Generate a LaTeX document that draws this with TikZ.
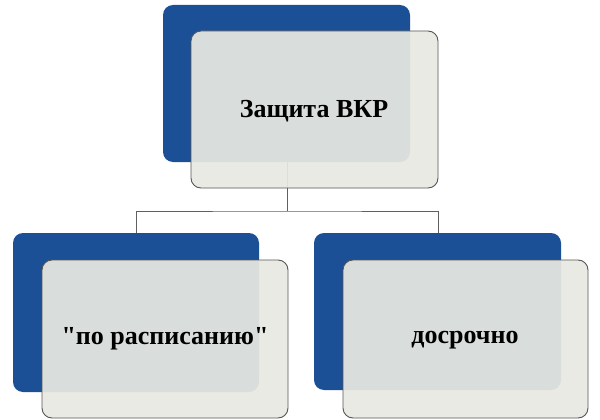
\documentclass[tikz,border=0pt]{standalone}
\usepackage{fontspec}
\setmainfont{Liberation Serif}
\newfontfamily\lblfont{Liberation Serif}
\definecolor{boxblue}{HTML}{1B4F96}
\definecolor{frontfill}{HTML}{E8E8E2}
\definecolor{frontline}{HTML}{555555}
\definecolor{linkcol}{HTML}{606060}
\begin{document}
\begin{tikzpicture}[x=1pt,y=-1pt,
  backbox/.style={fill=boxblue, rounded corners=10pt},
  frontbox/.style={fill=frontfill, fill opacity=0.93, draw=frontline, line width=0.9pt, rounded corners=10pt},
  link/.style={draw=linkcol, line width=0.9pt},
  lbl/.style={font=\lblfont\fontsize{26}{30}\selectfont\bfseries, text=black, inner sep=0pt}]
\useasboundingbox (0,0) rectangle (600,420);
% back boxes
\fill[backbox] (163,5) rectangle (410,162);
\fill[backbox] (13,233) rectangle (259,392);
\fill[backbox] (314,233) rectangle (561,390);
\coordinate (topc) at (287,162);
\coordinate (lc) at (136,233);
\coordinate (rc) at (438,233);
% connectors
\draw[link] (topc) -- (287,211) coordinate (j);
\draw[link] (lc) |- (j) -| (rc);
% front boxes
\path[frontbox] (191,31) rectangle (438,188);
\path[frontbox] (42,260) rectangle (288,418);
\path[frontbox] (343,260) rectangle (588,418);
% labels
\node[lbl] (t1) at (314,111) {Защита ВКР};
\node[lbl] (t2) at (165,339) {"по расписанию"};
\node[lbl] (t3) at (465,340) {досрочно};
\end{tikzpicture}
\end{document}
